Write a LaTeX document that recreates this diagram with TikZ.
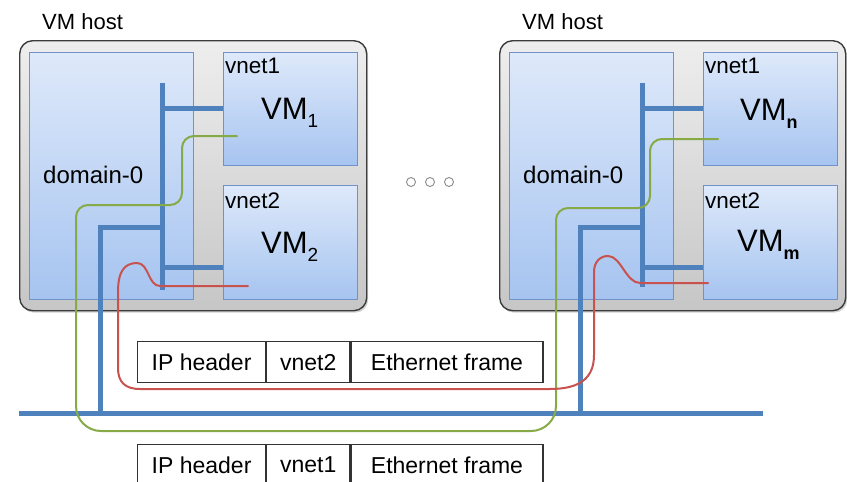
\documentclass[tikz,border=0pt]{standalone}
\usepackage{fontspec}
\setmainfont{Liberation Sans}
\usetikzlibrary{shadows}

\definecolor{busblue}{RGB}{79,129,189}
\definecolor{wiregreen}{RGB}{134,170,70}
\definecolor{wirered}{RGB}{200,82,78}
\definecolor{hostedge}{RGB}{60,60,60}
\definecolor{hosttop}{RGB}{238,238,238}
\definecolor{hostbot}{RGB}{198,198,198}
\definecolor{guestedge}{RGB}{112,146,200}
\definecolor{guesttop}{RGB}{222,233,250}
\definecolor{guestbot}{RGB}{166,196,240}
\definecolor{dotgray}{RGB}{140,140,140}

\newcommand{\fsz}[1]{\fontsize{#1}{#1}\selectfont}

\begin{document}
\begin{tikzpicture}[x=1pt,y=-1pt,
  host/.style={draw=hostedge, line width=1.4pt, rounded corners=13pt,
    top color=hosttop, bottom color=hostbot, anchor=north west, inner sep=0pt,
    drop shadow={shadow xshift=1.5pt, shadow yshift=-2pt, opacity=0.35}},
  guest/.style={draw=guestedge, line width=1.3pt, top color=guesttop,
    bottom color=guestbot, anchor=north west, inner sep=0pt},
  label/.style={anchor=base west, inner sep=0pt, text=black},
  bus/.style={draw=busblue, line width=5pt, line join=miter},
  wire/.style={line width=2pt, line cap=round},
  greenwire/.style={wire, draw=wiregreen},
  redwire/.style={wire, draw=wirered},
  cell/.style={draw=black!80, line width=1.2pt, anchor=north west,
    minimum height=41pt, inner sep=0pt, font=\fsz{23}},
  ring/.style={circle, draw=dotgray, line width=0.9pt, fill=white,
    minimum size=9pt, inner sep=0pt}]
\useasboundingbox (0,0) rectangle (847,482);

% ---------- hosts ----------
\node[host, minimum width=347pt, minimum height=270pt] (hostA) at (19,40) {};
\node[host, minimum width=346pt, minimum height=270pt] (hostB) at (499,40) {};

\node[label, font=\fsz{22}] (hostAlbl) at (42,29) {VM host};
\node[label, font=\fsz{22}] (hostBlbl) at (522,29) {VM host};

% domain-0 and guest boxes, left host
\node[guest, minimum width=164pt, minimum height=247pt] (domA) at (29,52) {};
\node[guest, minimum width=134pt, minimum height=113pt] (vm1) at (223,52) {};
\node[guest, minimum width=134pt, minimum height=114pt] (vm2) at (223,185) {};

% domain-0 and guest boxes, right host
\node[guest, minimum width=164pt, minimum height=247pt] (domB) at (509,52) {};
\node[guest, minimum width=134pt, minimum height=113pt] (vmn) at (703,52) {};
\node[guest, minimum width=134pt, minimum height=114pt] (vmm) at (703,185) {};

% box texts
\node[label, font=\fsz{24}] (domAlbl) at (43,183) {domain-0};
\node[label, font=\fsz{24}] (domBlbl) at (523,183) {domain-0};
\node[label, font=\fsz{22.5}] (vnA1) at (225,73) {vnet1};
\node[label, font=\fsz{22.5}] (vnA2) at (225,208) {vnet2};
\node[label, font=\fsz{22.5}] (vnB1) at (705,73) {vnet1};
\node[label, font=\fsz{22.5}] (vnB2) at (705,208) {vnet2};

\node[label, font=\fsz{31}] (vm1lbl) at (261,119)
  {VM\raisebox{-8pt}{\fsz{19}1}};
\node[label, font=\fsz{31}] (vm2lbl) at (261,253)
  {VM\raisebox{-8pt}{\fsz{19}2}};
\node[label, font=\fsz{31}] (vmnlbl) at (740,120)
  {VM\raisebox{-8pt}{\fsz{18}\bfseries n}};
\node[label, font=\fsz{31}] (vmmlbl) at (737,251)
  {VM\raisebox{-8pt}{\fsz{18}\bfseries m}};

% ellipsis between the hosts
\node[ring] (dot1) at (411,182) {};
\node[ring] (dot2) at (430,182) {};
\node[ring] (dot3) at (449,182) {};

% ---------- bridges and the physical network ----------
\coordinate (brAtop) at (162,83);
\coordinate (brAbot) at (162,290);
\coordinate (brBtop) at (642,83);
\coordinate (brBbot) at (642,287);
\coordinate (netL) at (19,413);
\coordinate (netR) at (763,413);
\coordinate (upA) at (100,227);
\coordinate (upB) at (580,227);

\draw[bus] (brAtop) -- (brAbot);
\draw[bus] (162,108) -- (vm1.west |- 0,108);
\draw[bus] (162,267) -- (vm2.west |- 0,267);
\draw[bus] (upA |- netL) -- (upA) -- (upA -| brAtop);

\draw[bus] (brBtop) -- (brBbot);
\draw[bus] (642,108) -- (vmn.west |- 0,108);
\draw[bus] (642,267) -- (vmm.west |- 0,267);
\draw[bus] (upB |- netL) -- (upB) -- (upB -| brBtop);

\draw[bus] (netL) -- (netR);

% ---------- packet tables ----------
\node[cell, minimum width=128pt] (ipA) at (137,341) {IP header};
\node[cell, minimum width=83pt] (vnA) at (ipA.north east) {vnet2};
\node[cell, minimum width=192pt] (ethA) at (vnA.north east) {Ethernet frame};

\node[cell, minimum width=128pt] (ipB) at (137,444) {IP header};
\node[cell, minimum width=83pt] (vnB) at (ipB.north east) {vnet1};
\node[cell, minimum width=192pt] (ethB) at (vnB.north east) {Ethernet frame};

% ---------- traffic paths ----------
\coordinate (g1) at (237,136);
\coordinate (g2) at (718,139);
\coordinate (gm1) at (76,300);
\coordinate (gm2) at (556,300);

\draw[greenwire, rounded corners=12pt]
  (g1) -- (182,136) -- (182,205) -- (76,205) -- (gm1);
\draw[greenwire, rounded corners=25pt]
  (gm1) -- (76,431) -- (556,431) -- (gm2);
\draw[greenwire, rounded corners=12pt]
  (gm2) -- (556,208) -- (650,208) -- (650,139) -- (g2);

\coordinate (r1) at (248,286);
\coordinate (r2) at (708,283);
\draw[redwire] (r1) -- (160,286)
  .. controls (148,286) and (149,263) .. (137,263)
  .. controls (124,263) and (118,272) .. (118,292)
  -- (118,368)
  .. controls (118,382) and (125,389) .. (140,389)
  -- (550,389)
  .. controls (580,389) and (594,378) .. (594,355)
  -- (594,272)
  .. controls (594,262) and (600,256) .. (608,256)
  .. controls (621,256) and (626,283) .. (640,283)
  -- (r2);
\end{tikzpicture}
\end{document}
